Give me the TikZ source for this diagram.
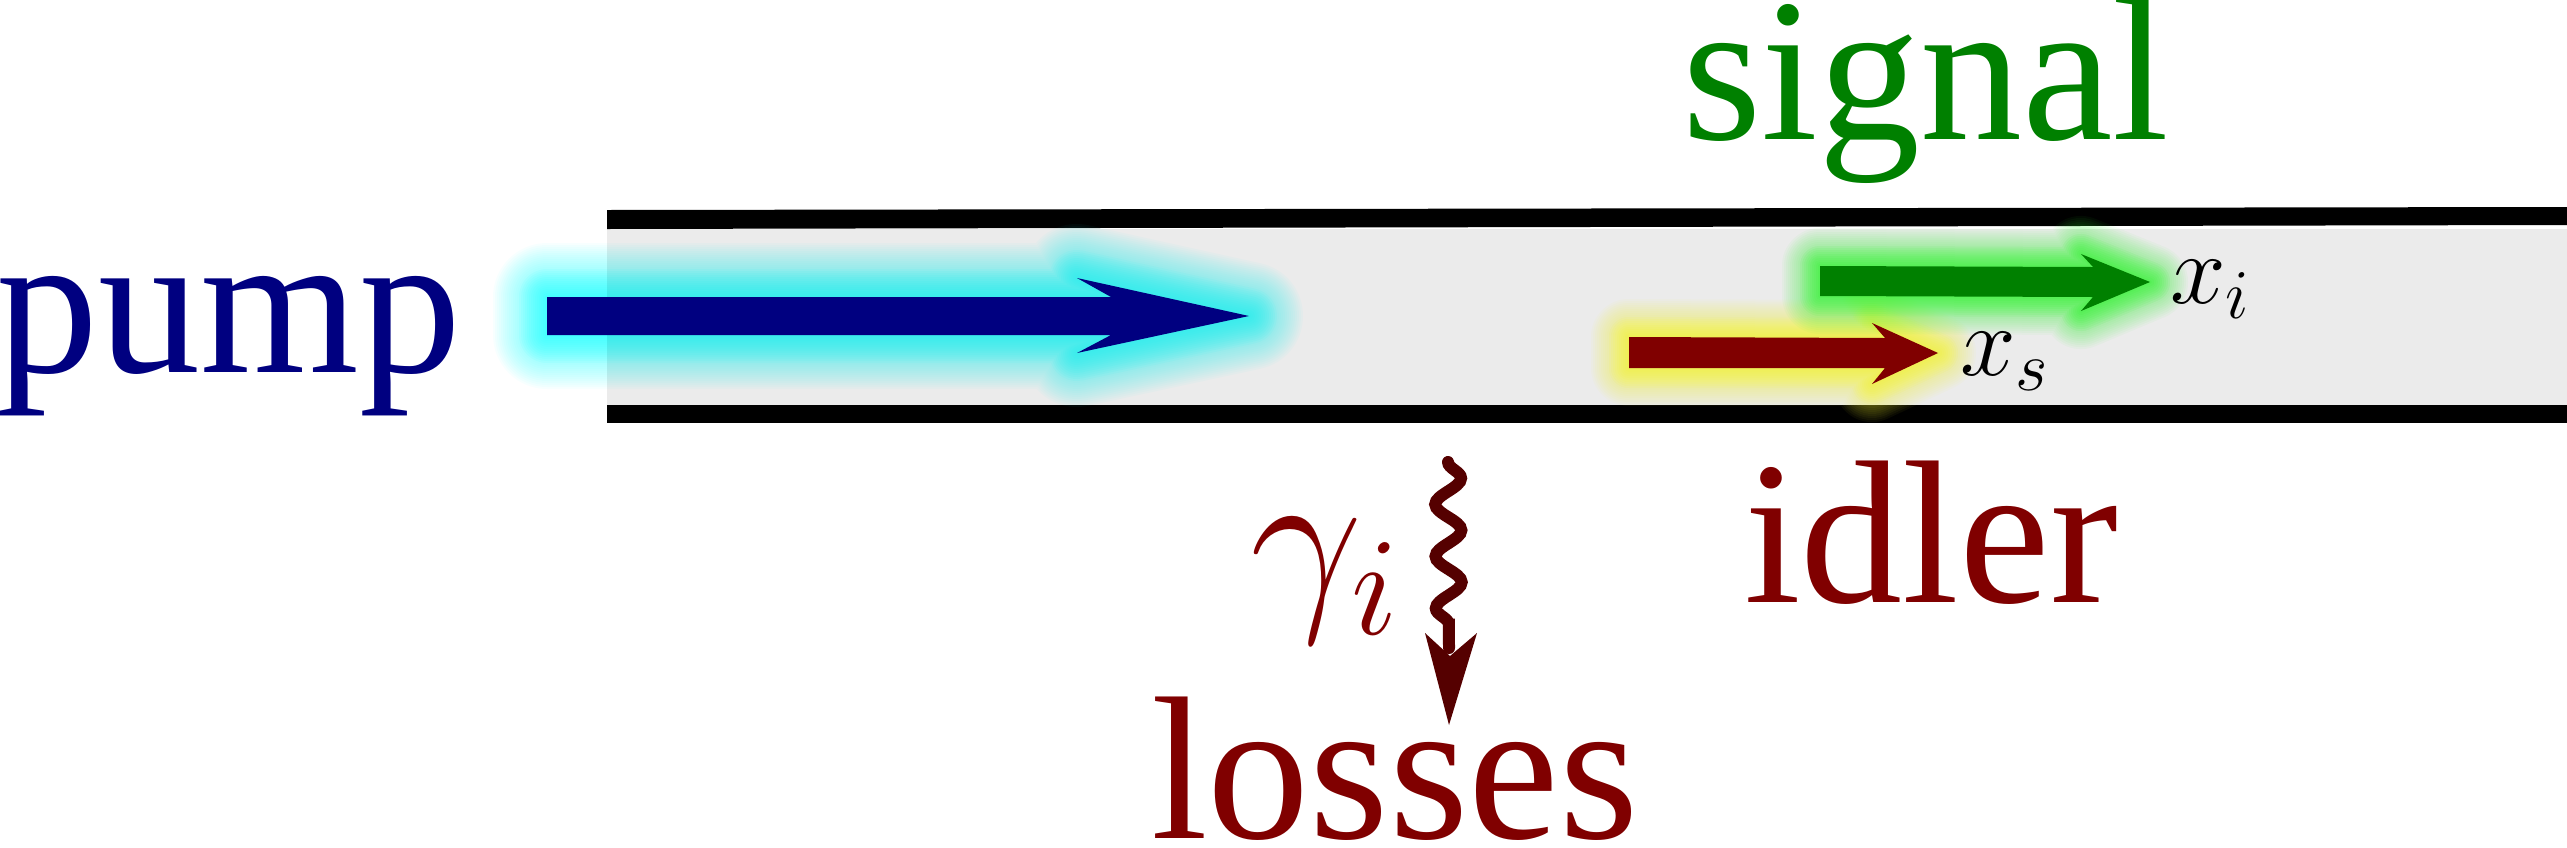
\RequirePackage{fix-cm}
\documentclass[tikz,border=0pt]{standalone}
\usepackage[no-math]{fontspec}
\setmainfont{Liberation Serif}
\usetikzlibrary{decorations.pathmorphing}
\definecolor{navyc}{HTML}{000080}
\definecolor{greenc}{HTML}{008000}
\definecolor{redc}{HTML}{800000}
\definecolor{wavec}{HTML}{550000}
\definecolor{tubegray}{HTML}{EBEBEB}
\definecolor{glowcyan}{HTML}{20FFFF}
\definecolor{glowgreen}{HTML}{33FF33}
\definecolor{glowyellow}{HTML}{FFFF33}
\newcommand\pumpshape[1]{\path[#1] (547,297) -- (1111,297) -- (1077,278) -- (1249,316) -- (1077,353) -- (1111,335) -- (547,335) -- cycle;}
\newcommand\signalshape[1]{\path[#1] (1820,266) -- (2093,267) -- (2081,254) -- (2150,282) -- (2081,311) -- (2093,297) -- (1820,296) -- cycle;}
\newcommand\idlershape[1]{\path[#1] (1629,337) -- (1885,338) -- (1872,323) -- (1938,353) -- (1872,384) -- (1885,368) -- (1629,368) -- cycle;}
\begin{document}
\begin{tikzpicture}[x=1pt,y=-1pt,
  bigtext/.style={inner sep=0pt, outer sep=0pt, anchor=base west, font=\fontsize{204}{240}\selectfont},
  mathlbl/.style={inner sep=0pt, outer sep=0pt, anchor=base west, font=\fontsize{100}{120}\selectfont},
  glowline/.style={draw=#1, line join=round, line cap=round}]
\useasboundingbox (0,0) rectangle (2567,847);
% tube
\fill[tubegray] (607,229) rectangle (2567,405);
\fill[black] (607,210) -- (2567,207) -- (2567,225) -- (607,229) -- cycle;
\fill[black] (607,405) rectangle (2567,423);
% glows (stacked translucent outlines, denser near the arrows)
\foreach \r in {2,4,...,54} {\pumpshape{glowline=glowcyan, opacity=0.035, line width={2*\r}}}
\foreach \r in {2,4,...,28} {\pumpshape{glowline=glowcyan, opacity=0.05, line width={2*\r}}}
\foreach \r in {2,4,...,38} {\idlershape{glowline=glowyellow, opacity=0.045, line width={2*\r}}}
\foreach \r in {2,4,...,20} {\idlershape{glowline=glowyellow, opacity=0.06, line width={2*\r}}}
\foreach \r in {2,4,...,38} {\signalshape{glowline=glowgreen, opacity=0.045, line width={2*\r}}}
\foreach \r in {2,4,...,20} {\signalshape{glowline=glowgreen, opacity=0.06, line width={2*\r}}}
% arrows
\pumpshape{fill=navyc}
\idlershape{fill=redc}
\signalshape{fill=greenc}
% labels
\node[bigtext, text=navyc] (pump) at (-3,372) {pump};
\node[bigtext, text=greenc] (signal) at (1682,139) {signal};
\node[bigtext, text=redc] (idler) at (1744,602) {idler};
\node[bigtext, text=redc] (losses) at (1151,838) {losses};
\node[inner sep=0pt, outer sep=0pt, anchor=base west, font=\fontsize{200}{240}\selectfont, text=redc] (gamma) at (1250,604) {$\gamma_i$};
\node[mathlbl] (xi) at (2170,303) {$x_i$};
\node[mathlbl] (xs) at (1960,375) {$x_s$};
% wavy loss arrow
\coordinate (wtop) at (1448,462);
\coordinate (wend) at (1449,648);
\coordinate (wtip) at (1449,725);
\draw[wavec, line width=12, line cap=round, decorate, decoration={snake, amplitude=13pt, segment length=52pt, post length=6pt}] (wtop) -- (wend);
\fill[wavec] (wtip) -- (1477,633) -- (1450,656) -- (1425,633) -- cycle;
\end{tikzpicture}
\end{document}
